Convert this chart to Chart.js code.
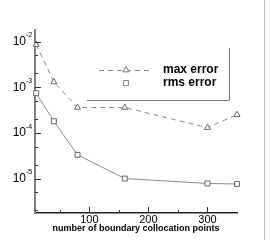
<!DOCTYPE html>
<html>
<head>
<meta charset="utf-8">
<script src="https://cdn.jsdelivr.net/npm/chart.js@4"></script>
<style>
  body { margin: 0; background: #fff; }
  #wrap { width: 270px; height: 240px; }
</style>
</head>
<body>
<div id="wrap"><canvas id="errChart" width="270" height="240"></canvas></div>
<script>
// data
const points = [10, 40, 80, 160, 300, 350];
const maxError = [8.6e-3, 1.3e-3, 3.6e-4, 3.6e-4, 1.3e-4, 2.5e-4];
const rmsError = [7.4e-4, 1.8e-4, 3.3e-5, 1.0e-5, 7.8e-6, 7.6e-6];
const xTicks = [100, 200, 300];
const yDecades = [-5, -4, -3, -2];

const FONT = '"Liberation Sans", Arial, sans-serif';

// inward tick marks, power-of-ten labels, legend, page edge line
const extras = {
  id: 'extras',
  afterDraw(chart) {
    const c = chart.ctx;
    const x = chart.scales.x, y = chart.scales.y;
    const a = chart.chartArea;
    c.save();
    c.strokeStyle = '#333';
    c.lineWidth = 1;
    // y ticks
    yDecades.forEach(e => {
      [1, 2, 5].forEach(m => {
        const py = Math.round(y.getPixelForValue(m * Math.pow(10, e))) + 0.5;
        if (py < a.top || py > a.bottom) return;
        c.beginPath();
        c.moveTo(a.left, py);
        c.lineTo(a.left + (m === 1 ? 6 : 3), py);
        c.stroke();
      });
    });
    [2e-6, 5e-6].forEach(v => {
      const py = Math.round(y.getPixelForValue(v)) + 0.5;
      c.beginPath(); c.moveTo(a.left, py); c.lineTo(a.left + 3, py); c.stroke();
    });
    // y labels 10^e
    c.fillStyle = '#000';
    c.textBaseline = 'middle';
    yDecades.forEach(e => {
      const py = y.getPixelForValue(Math.pow(10, e));
      c.font = '12px ' + FONT;
      c.textAlign = 'right';
      c.fillText('10', 26, py);
      c.font = '7px ' + FONT;
      c.textAlign = 'left';
      c.fillText(String(e), 26, py - 6);
    });
    // x ticks
    [50, 100, 150, 200, 250, 300].forEach(v => {
      const px = Math.round(x.getPixelForValue(v)) + 0.5;
      c.beginPath();
      c.moveTo(px, a.bottom);
      c.lineTo(px, a.bottom - (v % 100 === 0 ? 6 : 3));
      c.stroke();
    });
    // legend box (right and bottom edges)
    c.strokeStyle = '#777';
    c.beginPath();
    c.moveTo(229.5, 48);
    c.lineTo(229.5, 100.5);
    c.lineTo(87, 100.5);
    c.stroke();
    // legend samples
    const ds = chart.data.datasets;
    c.strokeStyle = ds[0].borderColor;
    c.setLineDash([5, 4]);
    c.beginPath(); c.moveTo(99, 70.5); c.lineTo(150, 70.5); c.stroke();
    c.setLineDash([]);
    c.fillStyle = '#fff';
    Chart.helpers.drawPoint(c, { pointStyle: 'triangle', radius: 3.5, borderWidth: 1 }, 126, 70);
    c.fill(); c.stroke();
    c.strokeStyle = ds[1].borderColor;
    Chart.helpers.drawPoint(c, { pointStyle: 'rect', radius: 3.5, borderWidth: 1 }, 126, 83);
    c.fill(); c.stroke();
    c.fillStyle = '#000';
    c.font = 'bold 12px ' + FONT;
    c.textAlign = 'left';
    c.textBaseline = 'middle';
    c.fillText(ds[0].label, 163, 70);
    c.fillText(ds[1].label, 163, 83);
    // page edge line
    c.strokeStyle = '#bbb';
    c.beginPath(); c.moveTo(264.5, 0); c.lineTo(264.5, 240); c.stroke();
    c.restore();
  }
};

new Chart(document.getElementById('errChart'), {
  type: 'line',
  data: {
    datasets: [
      {
        label: 'max error',
        data: points.map((p, i) => ({ x: p, y: maxError[i] })),
        borderColor: '#8a8a8a',
        borderWidth: 1,
        borderDash: [5, 4],
        pointStyle: 'triangle',
        pointRadius: 3.5,
        pointBorderColor: '#666',
        pointBackgroundColor: '#fff',
        pointBorderWidth: 1,
        clip: false
      },
      {
        label: 'rms error',
        data: points.map((p, i) => ({ x: p, y: rmsError[i] })),
        borderColor: '#8a8a8a',
        borderWidth: 1,
        pointStyle: 'rect',
        pointRadius: 3.5,
        pointBorderColor: '#666',
        pointBackgroundColor: '#fff',
        pointBorderWidth: 1,
        clip: false
      }
    ]
  },
  options: {
    responsive: false,
    animation: false,
    layout: { padding: { top: 30, right: 33, left: 0, bottom: 7 } },
    plugins: { legend: { display: false }, tooltip: { enabled: false } },
    scales: {
      x: {
        type: 'linear',
        min: 8,
        max: 350,
        grid: { display: false, drawTicks: false, tickLength: 0 },
        border: { color: '#222', width: 1.5 },
        afterBuildTicks: s => { s.ticks = xTicks.map(v => ({ value: v })); },
        afterFit: s => { s.height = 20; },
        ticks: {
          color: '#000',
          padding: 1,
          maxRotation: 0,
          font: { family: FONT, size: 11, lineHeight: 1 }
        },
        title: {
          display: true,
          text: 'number of boundary collocation points',
          color: '#000',
          padding: 0,
          font: { family: FONT, size: 9, weight: 'bold', lineHeight: 1 }
        }
      },
      y: {
        type: 'logarithmic',
        min: 1.76e-6,
        max: 1.79e-2,
        grid: { display: false },
        border: { color: '#808080', width: 2 },
        afterBuildTicks: s => { s.ticks = yDecades.map(e => ({ value: Math.pow(10, e) })); },
        afterFit: s => { s.width = 35; },
        ticks: { display: false }
      }
    }
  },
  plugins: [extras]
});
</script>
</body>
</html>
